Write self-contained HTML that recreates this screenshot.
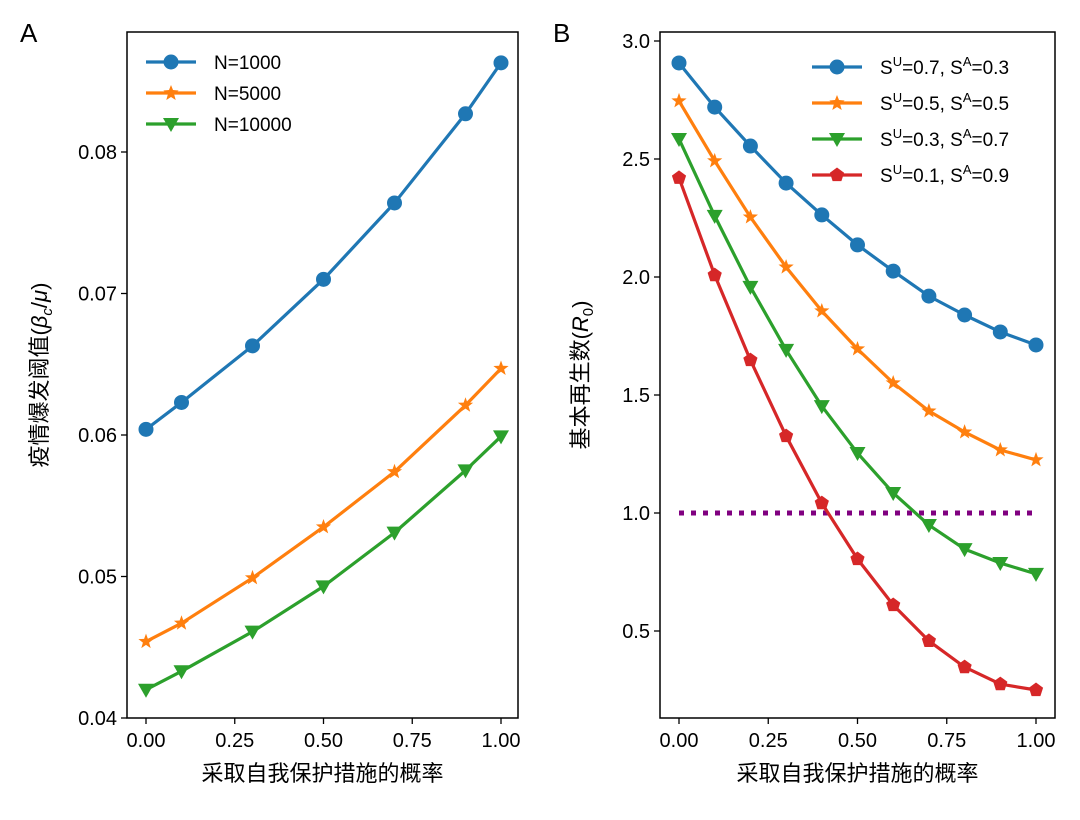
<!DOCTYPE html>
<html><head><meta charset="utf-8"><style>
body{margin:0;background:#fff}
svg text{font-family:"Liberation Sans","Noto Sans CJK SC",sans-serif;fill:#000}
</style></head><body>
<svg id="c" width="1080" height="815" xmlns="http://www.w3.org/2000/svg"></svg>
<script>
const xA=[0,0.1,0.3,0.5,0.7,0.9,1.0];
const n1000=[0.0604,0.0623,0.0663,0.0710,0.0764,0.0827,0.0863];
const n5000=[0.0454,0.0467,0.0499,0.0535,0.0574,0.0621,0.0647];
const n10000=[0.0420,0.0433,0.0461,0.0493,0.0531,0.0575,0.0599];
const xB=[0,0.1,0.2,0.3,0.4,0.5,0.6,0.7,0.8,0.9,1.0];
const s73=[2.907,2.720,2.555,2.398,2.263,2.136,2.025,1.919,1.839,1.767,1.712];
const s55=[2.746,2.492,2.254,2.042,1.856,1.695,1.551,1.432,1.343,1.267,1.225];
const s37=[2.585,2.259,1.958,1.691,1.453,1.254,1.085,0.949,0.847,0.788,0.742];
const s19=[2.420,2.008,1.648,1.326,1.042,0.805,0.610,0.458,0.347,0.275,0.250];
const xTicks=[0,0.25,0.5,0.75,1.0];
const xTickLabels=["0.00","0.25","0.50","0.75","1.00"];
const yTicksA=[0.04,0.05,0.06,0.07,0.08];
const yTickLabelsA=["0.04","0.05","0.06","0.07","0.08"];
const yTicksB=[0.5,1.0,1.5,2.0,2.5,3.0];
const yTickLabelsB=["0.5","1.0","1.5","2.0","2.5","3.0"];
const threshold=1.0;

const svg=document.getElementById('c');
const NS='http://www.w3.org/2000/svg';
function el(t,a,p){const e=document.createElementNS(NS,t);for(const k in a)e.setAttribute(k,a[k]);(p||svg).appendChild(e);return e;}
function lin(d0,d1,r0,r1){return v=>r0+(v-d0)/(d1-d0)*(r1-r0);}
function marker(g,type,x,y,c){
  let m;
  if(type==='circle')m=el('circle',{cx:x,cy:y,r:7.5,fill:c},g);
  else if(type==='star'){let p=[];for(let i=0;i<10;i++){const r=i%2?3.3:8;const a=-Math.PI/2+i*Math.PI/5;p.push((x+r*Math.cos(a)).toFixed(1)+','+(y+r*Math.sin(a)).toFixed(1));}m=el('polygon',{points:p.join(' '),fill:c},g);}
  else if(type==='tri')m=el('polygon',{points:`${x-8},${y-6} ${x+8},${y-6} ${x},${y+8}`,fill:c},g);
  else {let p=[];for(let i=0;i<5;i++){const a=-Math.PI/2+i*2*Math.PI/5;p.push((x+7.5*Math.cos(a)).toFixed(1)+','+(y+7.5*Math.sin(a)).toFixed(1));}m=el('polygon',{points:p.join(' '),fill:c},g);}
  
  
}
function series(xs,ys,sx,sy,c,type,name){
  const g=el('g',{});
  
  
  el('polyline',{points:xs.map((x,i)=>sx(x)+','+sy(ys[i])).join(' '),fill:'none',stroke:c,'stroke-width':3.2,'stroke-linejoin':'round'},g);
  xs.forEach((x,i)=>marker(g,type,sx(x),sy(ys[i]),c));
}
function axes(L,R,T,B,sx,sy,yt,ytl,name){
  const g=el('g',{});
  
  
  el('rect',{x:L,y:T,width:R-L,height:B-T,fill:'none',stroke:'#000','stroke-width':1.5},g);
  xTicks.forEach((t,i)=>{const x=sx(t);el('line',{x1:x,x2:x,y1:B,y2:B+6,stroke:'#000','stroke-width':1.3},g);
    const tx=el('text',{x:x,y:B+29,'text-anchor':'middle','font-size':20},g);tx.textContent=xTickLabels[i];
    });
  yt.forEach((t,i)=>{const y=sy(t);el('line',{x1:L-6,x2:L,y1:y,y2:y,stroke:'#000','stroke-width':1.3},g);
    const tx=el('text',{x:L-10,y:y+7,'text-anchor':'end','font-size':20},g);tx.textContent=ytl[i];
    });
  const xl=el('text',{x:(L+R)/2,y:B+63,'text-anchor':'middle','font-size':22},g);xl.textContent='采取自我保护措施的概率';
  
}
// Panel A
const axA=lin(0,1,146,501), ayA=lin(0.04,0.08,718,152);
axes(127,518,32,718,axA,ayA,yTicksA,yTickLabelsA,'panel-a-axes');
series(xA,n1000,axA,ayA,'#1f77b4','circle','series-n1000');
series(xA,n5000,axA,ayA,'#ff7f0e','star','series-n5000');
series(xA,n10000,axA,ayA,'#2ca02c','tri','series-n10000');
// Panel B
const axB=lin(0,1,679,1036), ayB=lin(0,3,749,41);
axes(660,1055,32,718,axB,ayB,yTicksB,yTickLabelsB,'panel-b-axes');
const th=el('line',{x1:axB(0),x2:axB(1),y1:ayB(threshold),y2:ayB(threshold),stroke:'#800080','stroke-width':5,'stroke-dasharray':'5,7'});

series(xB,s73,axB,ayB,'#1f77b4','circle','series-su07');
series(xB,s55,axB,ayB,'#ff7f0e','star','series-su05');
series(xB,s37,axB,ayB,'#2ca02c','tri','series-su03');
series(xB,s19,axB,ayB,'#d62728','pent','series-su01');
</script>
<svg width="1080" height="815" style="position:absolute;left:0;top:0" xmlns="http://www.w3.org/2000/svg">
<g>
<text x="20" y="42" font-size="26">A</text>
<text x="553" y="42" font-size="26">B</text>
<text transform="translate(47,375) rotate(-90)" text-anchor="middle" font-size="22">疫情爆发阈值(<tspan font-style="italic">β</tspan><tspan font-size="15" dy="5" font-style="italic">c</tspan><tspan dy="-5">/</tspan><tspan font-style="italic">μ</tspan>)</text>
<text transform="translate(588,375) rotate(-90)" text-anchor="middle" font-size="22">基本再生数(<tspan font-style="italic">R</tspan><tspan font-size="15" dy="5">0</tspan><tspan dy="-5">)</tspan></text>
</g>
<g font-size="19">
<g><line x1="146" x2="196" y1="62" y2="62" stroke="#1f77b4" stroke-width="3.2"/><circle cx="171" cy="62" r="7.5" fill="#1f77b4"/><text x="214" y="69">N=1000</text></g>
<g><line x1="146" x2="196" y1="93" y2="93" stroke="#ff7f0e" stroke-width="3.2"/><polygon points="171,85 173,90 178.6,90.5 174.2,94.5 175.7,100 171,97 166.3,100 167.8,94.5 163.4,90.5 169,90" fill="#ff7f0e"/><text x="214" y="100">N=5000</text></g>
<g><line x1="146" x2="196" y1="124" y2="124" stroke="#2ca02c" stroke-width="3.2"/><polygon points="163,118 179,118 171,132" fill="#2ca02c"/><text x="214" y="131">N=10000</text></g>
</g>
<g font-size="19">
<g><line x1="812" x2="862" y1="67" y2="67" stroke="#1f77b4" stroke-width="3.2"/><circle cx="837" cy="67" r="7.5" fill="#1f77b4"/><text x="880" y="74">S<tspan font-size="13" dy="-8">U</tspan><tspan dy="8">=0.7, S</tspan><tspan font-size="13" dy="-8">A</tspan><tspan dy="8">=0.3</tspan></text></g>
<g><line x1="812" x2="862" y1="103" y2="103" stroke="#ff7f0e" stroke-width="3.2"/><polygon points="837,95 839,100 844.6,100.5 840.2,104.5 841.7,110 837,107 832.3,110 833.8,104.5 829.4,100.5 835,100" fill="#ff7f0e"/><text x="880" y="110">S<tspan font-size="13" dy="-8">U</tspan><tspan dy="8">=0.5, S</tspan><tspan font-size="13" dy="-8">A</tspan><tspan dy="8">=0.5</tspan></text></g>
<g><line x1="812" x2="862" y1="139" y2="139" stroke="#2ca02c" stroke-width="3.2"/><polygon points="829,133 845,133 837,147" fill="#2ca02c"/><text x="880" y="146">S<tspan font-size="13" dy="-8">U</tspan><tspan dy="8">=0.3, S</tspan><tspan font-size="13" dy="-8">A</tspan><tspan dy="8">=0.7</tspan></text></g>
<g><line x1="812" x2="862" y1="175" y2="175" stroke="#d62728" stroke-width="3.2"/><polygon points="837,167.5 844.1,172.7 841.4,181.1 832.6,181.1 829.9,172.7" fill="#d62728"/><text x="880" y="182">S<tspan font-size="13" dy="-8">U</tspan><tspan dy="8">=0.1, S</tspan><tspan font-size="13" dy="-8">A</tspan><tspan dy="8">=0.9</tspan></text></g>
</g>
</svg>
</body></html>
